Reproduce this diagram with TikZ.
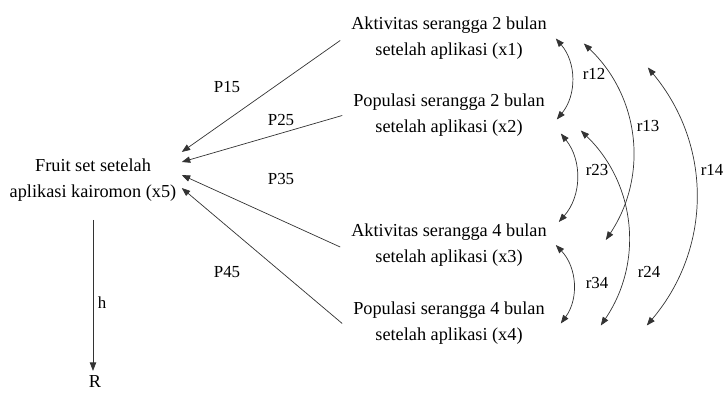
\documentclass[tikz,border=0pt]{standalone}
\usepackage{fontspec}
\setmainfont{Liberation Serif}
\usetikzlibrary{arrows.meta,calc}

\begin{document}
\begin{tikzpicture}[x=0.025cm, y=-0.025cm,
    var/.style  = {align=center, inner sep=2pt, font=\fontsize{13}{18.5}\selectfont},
    lbl/.style  = {inner sep=1pt, font=\fontsize{12}{14}\selectfont},
    arr/.style  = {draw=black!80, line width=0.5pt, -{Triangle[length=6pt,width=4.5pt]}},
    corr/.style = {draw=black!80, line width=0.5pt,
                   {Triangle[length=6pt,width=4.5pt]}-{Triangle[length=6pt,width=4.5pt]}, bend left=40}]
  \useasboundingbox (0,0) rectangle (726,394);

  % variables
  \node[var] (x1) at (449,38.5) {Aktivitas serangga 2 bulan\\setelah aplikasi (x1)};
  \node[var] (x2) at (449,115.5) {Populasi serangga 2 bulan\\setelah aplikasi (x2)};
  \node[var] (x3) at (449,245) {Aktivitas serangga 4 bulan\\setelah aplikasi (x3)};
  \node[var] (x4) at (449,323.5) {Populasi serangga 4 bulan\\setelah aplikasi (x4)};
  \node[var, inner sep=3pt] (x5) at (93,180) {Fruit set setelah\\aplikasi kairomon (x5)};
  \node[var] (R) at (95,382) {R};

  % paths
  \draw[arr] ($(x1.west)+(-8,2)$) -- ($(x5.east)+(1,-28)$);
  \draw[arr] ($(x2.west)+(-8,0)$) -- ($(x5.east)+(1,-18)$);
  \draw[arr] ($(x3.west)+(-8,2)$) -- ($(x5.east)+(1,-5)$);
  \draw[arr] ($(x4.west)+(-8,0)$) -- ($(x5.east)+(1,8)$);
  \draw[arr] ($(x5.south)+(0,14)$) -- ($(R.north)+(-2,-2)$);

  \node[lbl] (p15) at (227,87) {P15};
  \node[lbl] (p25) at (281,120) {P25};
  \node[lbl] (p35) at (281,179) {P35};
  \node[lbl] (p45) at (227,272) {P45};
  \node[lbl] (h) at (102,303) {h};

  % correlations
  \draw[corr] ($(x1.east)+(6,0)$) to ($(x2.east)+(9,4)$);
  \draw[corr] ($(x1.east)+(34,5)$) to ($(x3.east)+(56,-5)$);
  \draw[corr] ($(x1.east)+(98,29)$) to ($(x4.east)+(99,2)$);
  \draw[corr] ($(x2.east)+(13,18)$) to ($(x3.east)+(9,-23)$);
  \draw[corr] ($(x2.east)+(33,15)$) to ($(x4.east)+(53,2)$);
  \draw[corr] ($(x3.east)+(6,0)$) to ($(x4.east)+(13,0)$);

  \node[lbl] (r12) at (594,74) {r12};
  \node[lbl] (r13) at (648,126) {r13};
  \node[lbl] (r14) at (712,170) {r14};
  \node[lbl] (r23) at (597,170) {r23};
  \node[lbl] (r24) at (649,272) {r24};
  \node[lbl] (r34) at (597,283) {r34};
\end{tikzpicture}
\end{document}
